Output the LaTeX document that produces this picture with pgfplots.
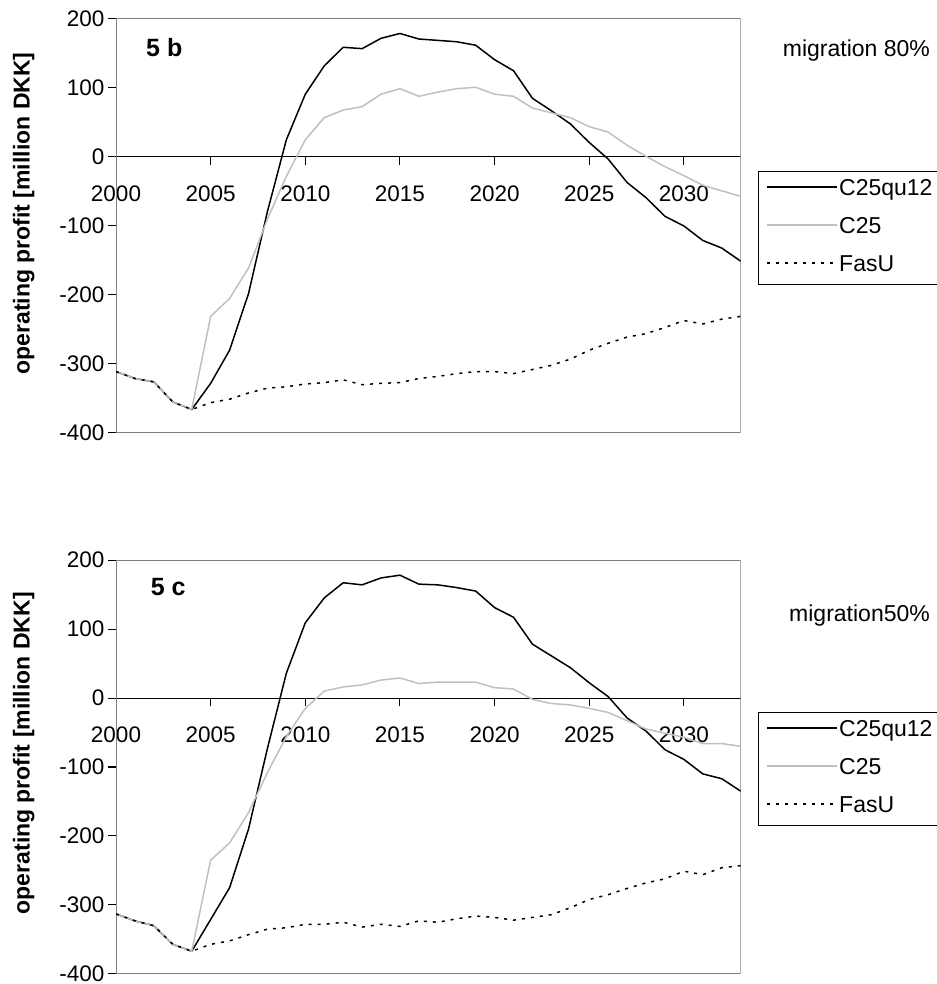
\documentclass[border=0pt]{standalone}
\usepackage{fontspec}
\setmainfont{Liberation Sans}
\usepackage{pgfplots}
\usepackage{pgfplotstable}
\pgfplotsset{compat=1.18}

\definecolor{lgray}{HTML}{C0C0C0}
\definecolor{bgray}{HTML}{808080}

\newcommand{\tickfont}{\fontsize{22.5}{26}\selectfont}
\newcommand{\txtfont}{\fontsize{23}{27}\selectfont}

\pgfplotstableread{
year q12 c25 fasu
2000 -311 -311 -311
2001 -321 -321 -321
2002 -326 -326 -326
2003 -355 -355 -355
2004 -366 -366 -366
2005 -328 -231 -356
2006 -280 -205 -351
2007 -198 -161 -342
2008 -79 -90 -335
2009 25 -28 -333
2010 91 25 -329
2011 132 57 -327
2012 159 68 -323
2013 157 73 -330
2014 172 91 -328
2015 179 99 -327
2016 171 88 -321
2017 169 94 -318
2018 167 99 -314
2019 162 101 -311
2020 141 91 -311
2021 125 88 -314
2022 85 71 -308
2023 67 64 -302
2024 48 57 -293
2025 21 44 -280
2026 -3 36 -270
2027 -37 17 -261
2028 -59 1 -256
2029 -86 -14 -247
2030 -100 -27 -237
2031 -121 -41 -242
2032 -132 -49 -235
2033 -151 -57 -231
}\tabB

\pgfplotstableread{
year q12 c25 fasu
2000 -313 -313 -313
2001 -323 -323 -323
2002 -330 -330 -330
2003 -357 -357 -357
2004 -367 -367 -367
2005 -321 -235 -357
2006 -275 -210 -352
2007 -190 -166 -343
2008 -73 -108 -335
2009 36 -56 -333
2010 109 -15 -328
2011 145 10 -328
2012 167 16 -325
2013 164 19 -332
2014 174 26 -328
2015 178 29 -331
2016 165 21 -323
2017 164 23 -325
2018 160 23 -320
2019 155 23 -316
2020 131 15 -318
2021 117 13 -322
2022 78 -2 -318
2023 61 -8 -314
2024 44 -10 -304
2025 22 -15 -292
2026 2 -21 -285
2027 -29 -33 -276
2028 -48 -45 -268
2029 -75 -51 -262
2030 -89 -57 -251
2031 -110 -66 -256
2032 -117 -66 -246
2033 -135 -70 -243
}\tabC

\pgfplotsset{
 panel/.style={
  scale only axis, width=624.7pt, height=414pt,
  xmin=2000, xmax=2033, ymin=-400, ymax=200,
  axis x line=middle, axis y line=left,
  x axis line style={-, black, line width=1pt},
  y axis line style={-, black, line width=1pt},
  xtick={2000,2005,...,2030}, ytick={-400,-300,...,200},
  hide obscured x ticks=false, hide obscured y ticks=false,
  tick align=outside, major tick length=8pt,
  tick style={black, line width=1pt},
  /pgf/number format/assume math mode=true,
  /pgf/number format/1000 sep={},
  xticklabel style={font=\tickfont, anchor=north, yshift=-17pt},
  yticklabel style={font=\tickfont, anchor=east, inner ysep=0pt},
  legend cell align=left,
  legend image code/.code={\draw[##1] (0pt,2.5pt) -- (70pt,2.5pt);},
  legend style={at={(1.028,0.6336)}, anchor=north west, draw=black, line width=1pt,
     font=\txtfont, inner xsep=8pt, inner ysep=7pt, row sep=15pt,
     nodes={inner xsep=1pt, text height=15pt, text depth=4pt}},
 },
 q12/.style={black, line width=1.5pt},
 c25/.style={lgray, line width=1.5pt},
 fasu/.style={black, line width=1.5pt, dash pattern=on 3pt off 6pt},
}

\begin{document}
\begin{tikzpicture}
\useasboundingbox (0pt,0pt) rectangle (936pt,984pt);

% top panel 5 b
\begin{axis}[panel, at={(116pt,551pt)}, anchor=south west]
\draw[bgray, line width=1pt] (rel axis cs:0,0) rectangle (rel axis cs:1,1);
\addplot[q12] table[x=year, y=q12] {\tabB};
\addplot[c25] table[x=year, y=c25] {\tabB};
\addplot[fasu] table[x=year, y=fasu] {\tabB};
\legend{C25qu12, C25, FasU}
\end{axis}

% bottom panel 5 c
\begin{axis}[panel, at={(116pt,10pt)}, anchor=south west]
\draw[bgray, line width=1pt] (rel axis cs:0,0) rectangle (rel axis cs:1,1);
\addplot[q12] table[x=year, y=q12] {\tabC};
\addplot[c25] table[x=year, y=c25] {\tabC};
\addplot[fasu] table[x=year, y=fasu] {\tabC};
\legend{C25qu12, C25, FasU}
\end{axis}

\node[anchor=base west, font=\bfseries\fontsize{25}{29}\selectfont, inner sep=0pt] at (146pt,927.3pt) {5 b};
\node[anchor=base west, font=\bfseries\fontsize{25}{29}\selectfont, inner sep=0pt] at (150.7pt,388pt) {5 c};
\node[anchor=base west, font=\txtfont, inner sep=0pt] at (782.7pt,927.3pt) {migration 80\%};
\node[anchor=base west, font=\txtfont, inner sep=0pt] at (789pt,362.3pt) {migration50\%};

\node[rotate=90, anchor=base, font=\bfseries\txtfont, inner sep=0pt] at (29.5pt,770.5pt) {operating profit [million DKK]};
\node[rotate=90, anchor=base, font=\bfseries\txtfont, inner sep=0pt] at (29.5pt,230.7pt) {operating profit [million DKK]};
\end{tikzpicture}
\end{document}
